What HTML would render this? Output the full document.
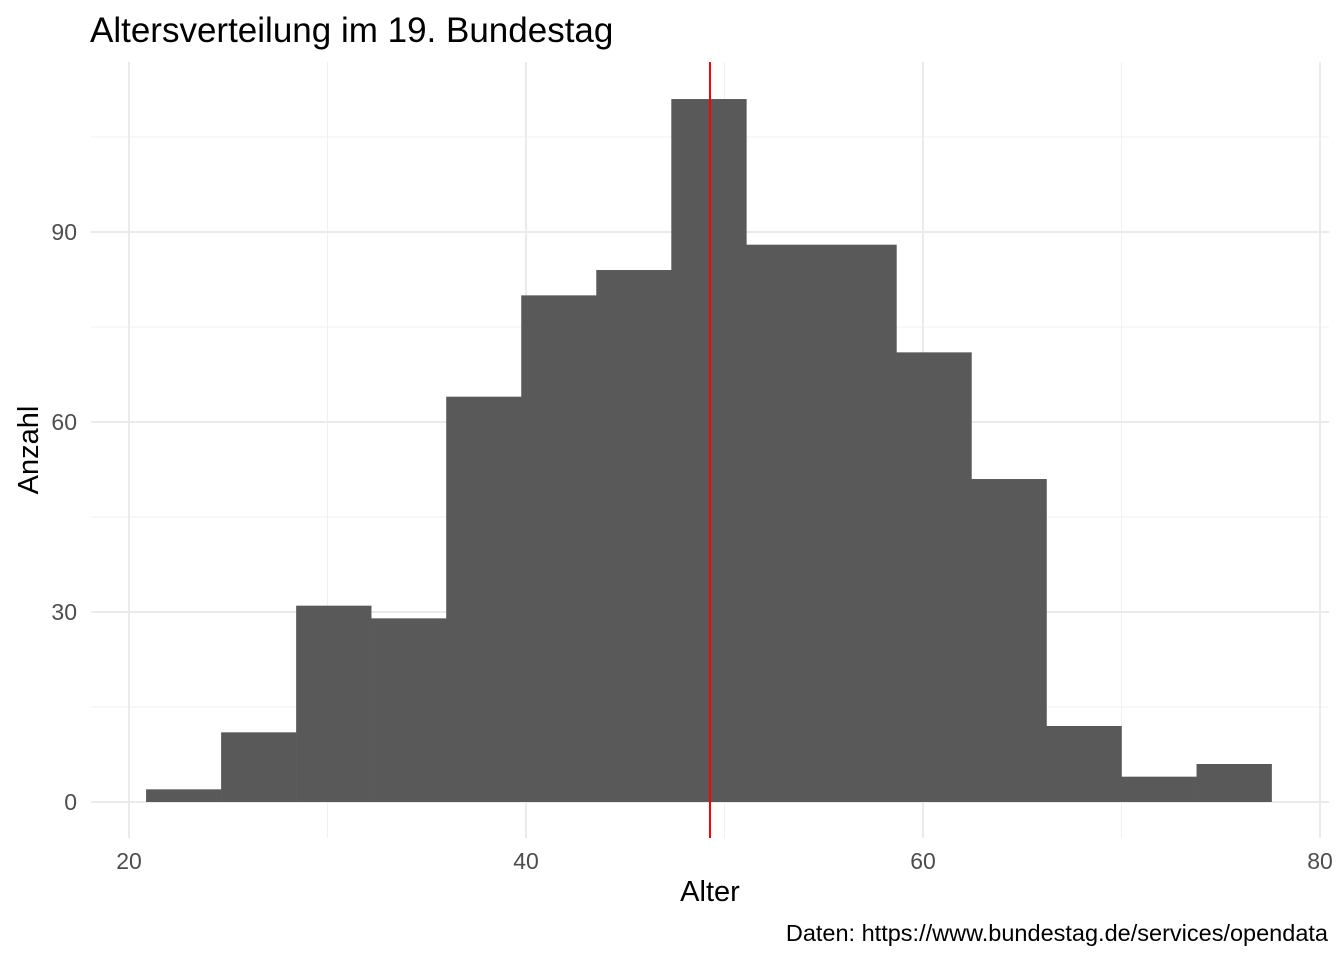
<!DOCTYPE html>
<html><head><meta charset="utf-8"><style>
body{margin:0;background:#fff}
svg{display:block;font-family:"Liberation Sans",Arial,sans-serif}
</style></head><body>
<svg id="chart" width="1344" height="960">
<rect width="1344" height="960" fill="#fff"/>
<text x="90" y="42" font-size="35" fill="#000">Altersverteilung im 19. Bundestag</text>
<g id="grid"></g>
<g id="bars"></g>
<g id="ticks"></g>
<text x="710" y="901" font-size="29" text-anchor="middle" fill="#000">Alter</text>
<text transform="translate(38,450) rotate(-90)" font-size="29" text-anchor="middle" fill="#000">Anzahl</text>
<text x="1328" y="941" font-size="23.5" text-anchor="end" fill="#000">Daten: https://www.bundestag.de/services/opendata</text>
</svg>
<script>
const binStart = 20.86;
const binWidth = 3.78;
const counts = [2, 11, 31, 29, 64, 80, 84, 111, 88, 88, 71, 51, 12, 4, 6];
const xTicks = [20, 40, 60, 80];
const xMinor = [30, 50, 70];
const yTicks = [0, 30, 60, 90];
const yMinor = [15, 45, 75, 105];
const meanAge = 49.27;

const NS = "http://www.w3.org/2000/svg";
const X = v => 129 + (v - 20) * 19.85;
const Y = v => 802 - v * 6.333;
const L = 91, R = 1329, T = 62, B = 838;
function mk(tag, attrs, parent) {
  const e = document.createElementNS(NS, tag);
  for (const k in attrs) e.setAttribute(k, attrs[k]);
  parent.appendChild(e); return e;
}
const grid = document.getElementById('grid');
const bars = document.getElementById('bars');
const ticks = document.getElementById('ticks');
xMinor.forEach(v => { const l = mk('line', {x1: X(v), x2: X(v), y1: T, y2: B, stroke: '#f0f0f0', 'stroke-width': 1}, grid);
    });
yMinor.forEach(v => { const l = mk('line', {x1: L, x2: R, y1: Y(v), y2: Y(v), stroke: '#f0f0f0', 'stroke-width': 1}, grid);
    });
xTicks.forEach(v => { const l = mk('line', {x1: X(v), x2: X(v), y1: T, y2: B, stroke: '#ebebeb', 'stroke-width': 2}, grid);
   
  const t = mk('text', {x: X(v), y: 869, 'font-size': 23, 'text-anchor': 'middle', fill: '#4d4d4d'}, ticks);
  t.textContent = v;
    });
yTicks.forEach(v => { const l = mk('line', {x1: L, x2: R, y1: Y(v), y2: Y(v), stroke: '#ebebeb', 'stroke-width': 2}, grid);
   
  const t = mk('text', {x: 77, y: Y(v) + 8, 'font-size': 23, 'text-anchor': 'end', fill: '#4d4d4d'}, ticks);
  t.textContent = v;
    });
counts.forEach((c, i) => {
  const x0 = X(binStart + i * binWidth), x1 = X(binStart + (i + 1) * binWidth);
  const r = mk('rect', {x: x0, y: Y(c), width: x1 - x0 + 0.3, height: Y(0) - Y(c), fill: '#595959'}, bars);
  
  
});
const m = mk('line', {x1: X(meanAge), x2: X(meanAge), y1: T, y2: B, stroke: '#ff0000', 'stroke-width': 2}, bars);


</script>
</body></html>
